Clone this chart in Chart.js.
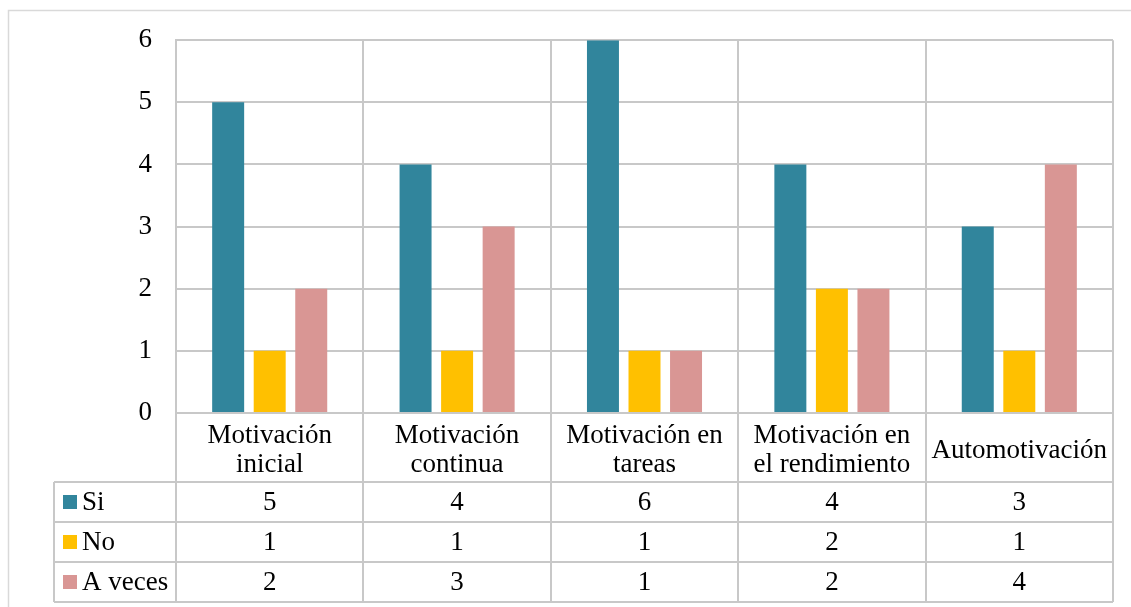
<!DOCTYPE html>
<html>
<head>
<meta charset="utf-8">
<script src="https://cdn.jsdelivr.net/npm/chart.js@4"></script>
<style>
  html, body { margin: 0; padding: 0; background: #ffffff; }
  #wrap { position: relative; width: 1131px; height: 607px; }
</style>
</head>
<body>
<div id="wrap"><canvas id="c" width="1131" height="607"></canvas></div>
<script>
// Categories (multi-line labels as shown in the data table header)
const categories = [
  ['Motivación', 'inicial'],
  ['Motivación', 'continua'],
  ['Motivación en', 'tareas'],
  ['Motivación en', 'el rendimiento'],
  ['Automotivación']
];
const seriesNames = ['Si', 'No', 'A veces'];
const siValues = [5, 4, 6, 4, 3];
const noValues = [1, 1, 1, 2, 1];
const aVecesValues = [2, 3, 1, 2, 4];
const yTicks = [0, 1, 2, 3, 4, 5, 6];

const colors = ['#31859C', '#FFC000', '#D99694'];
const gridColor = '#c8c8c8';
const fontFamily = '"Liberation Serif", "Times New Roman", serif';
const fontSize = 27;

// Data table drawn under the plot, aligned on the x scale
const dataTable = {
  id: 'dataTable',
  afterDraw(chart) {
    const ctx = chart.ctx;
    const area = chart.chartArea;
    const x = chart.scales.x;
    const half = (x.getPixelForValue(1) - x.getPixelForValue(0)) / 2;
    const headerBottom = area.bottom + 69;
    const rowH = 40;
    const tableLeft = 54;
    const rows = chart.data.datasets;
    const tableBottom = headerBottom + rowH * rows.length;

    ctx.save();
    // outer frame of the figure
    ctx.strokeStyle = '#d9d9d9';
    ctx.lineWidth = 1.5;
    ctx.beginPath();
    ctx.moveTo(8.5, 607);
    ctx.lineTo(8.5, 10.5);
    ctx.lineTo(1131, 10.5);
    ctx.stroke();

    ctx.strokeStyle = gridColor;
    ctx.lineWidth = 2;
    ctx.beginPath();
    // vertical lines through header and rows
    for (let i = 0; i <= categories.length; i++) {
      const px = Math.round(x.getPixelForValue(i) - half);
      ctx.moveTo(px, area.bottom);
      ctx.lineTo(px, tableBottom);
    }
    ctx.moveTo(tableLeft, headerBottom);
    ctx.lineTo(tableLeft, tableBottom);
    // horizontal lines
    ctx.moveTo(area.left, area.bottom);
    ctx.lineTo(area.right, area.bottom);
    for (let r = 0; r <= rows.length; r++) {
      const py = headerBottom + r * rowH;
      ctx.moveTo(tableLeft, py);
      ctx.lineTo(area.right, py);
    }
    ctx.stroke();

    // header text
    ctx.fillStyle = '#000000';
    ctx.font = fontSize + 'px ' + fontFamily;
    ctx.textAlign = 'center';
    ctx.textBaseline = 'middle';
    const headerMid = (area.bottom + headerBottom) / 2 + 3;
    categories.forEach((lines, i) => {
      const cx = x.getPixelForValue(i);
      const lh = 29;
      const start = headerMid - (lines.length - 1) * lh / 2;
      lines.forEach((t, k) => ctx.fillText(t, cx, start + k * lh));
    });

    // rows: legend keys, names and values
    rows.forEach((ds, r) => {
      const cy = headerBottom + r * rowH + rowH / 2;
      ctx.fillStyle = ds.backgroundColor;
      ctx.fillRect(tableLeft + 9, cy - 7, 14, 14);
      ctx.fillStyle = '#000000';
      ctx.textAlign = 'left';
      ctx.fillText(ds.label, tableLeft + 28, cy + 1);
      ctx.textAlign = 'center';
      ds.data.forEach((v, i) => ctx.fillText(String(v), x.getPixelForValue(i), cy + 1));
    });
    ctx.restore();
  }
};

new Chart(document.getElementById('c'), {
  type: 'bar',
  data: {
    labels: categories.map(l => l.join(' ')),
    datasets: [
      { label: seriesNames[0], data: siValues, backgroundColor: colors[0] },
      { label: seriesNames[1], data: noValues, backgroundColor: colors[1] },
      { label: seriesNames[2], data: aVecesValues, backgroundColor: colors[2] }
    ]
  },
  options: {
    responsive: false,
    animation: false,
    devicePixelRatio: 1,
    layout: { padding: { top: 40, right: 18, bottom: 194, left: 0 } },
    datasets: { bar: { categoryPercentage: 0.665, barPercentage: 0.77 } },
    plugins: { legend: { display: false }, tooltip: { enabled: false } },
    scales: {
      x: {
        offset: true,
        grid: { offset: true, color: gridColor, lineWidth: 2, drawTicks: false },
        border: { display: false },
        ticks: { display: false },
        afterFit(s) { s.height = 0; }
      },
      y: {
        min: 0, max: 6,
        afterBuildTicks(s) { s.ticks = yTicks.map(v => ({ value: v })); },
        grid: { color: gridColor, lineWidth: 2, drawTicks: false },
        border: { display: true, color: gridColor, width: 2 },
        ticks: {
          color: '#000000',
          padding: 24,
          font: { family: fontFamily, size: fontSize }
        },
        afterFit(s) { s.width = 176; }
      }
    }
  },
  plugins: [dataTable]
});
</script>
</body>
</html>
